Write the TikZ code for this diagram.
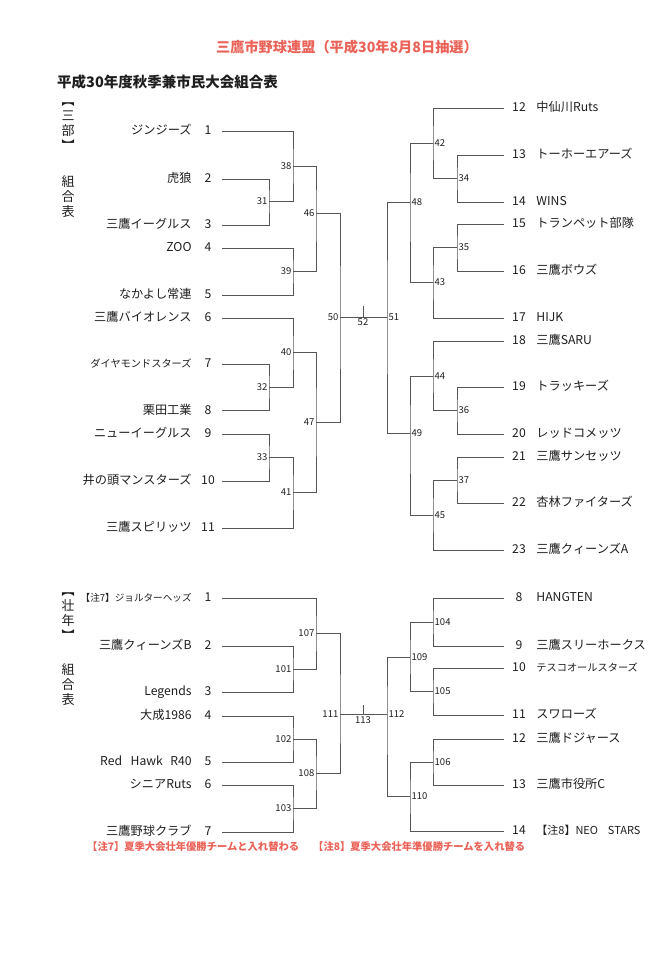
\documentclass[tikz,border=0pt]{standalone}
\usepackage{fontspec}
\setmainfont{Noto Sans CJK JP}
\usetikzlibrary{positioning}
\definecolor{drawred}{RGB}{234,98,88}
\definecolor{linegray}{RGB}{85,85,85}
\definecolor{textblack}{RGB}{30,30,30}

\begin{document}
\begin{tikzpicture}[x=1pt, y=-1pt, text=textblack,
	tname/.style={font=\fontsize{12.2}{14}\selectfont, inner sep=0pt, text height=8.8pt, text depth=1.6pt},
	tsmall/.style={tname, font=\fontsize{10.2}{12}\selectfont},
	num/.style={font=\fontsize{12.2}{14}\selectfont, minimum width=16pt, inner sep=0pt, text height=8.8pt, text depth=1.6pt},
	jnum/.style={font=\fontsize{9.5}{11}\selectfont, inner sep=1.5pt},
	side/.style={font=\fontsize{13}{15}\selectfont, align=center, inner sep=0pt},
	note/.style={font=\bfseries\fontsize{10.3}{12}\selectfont, text=drawred, anchor=west, inner sep=0pt},
	br/.style={draw=linegray, line width=0.9pt}]
		\useasboundingbox (0,0) rectangle (665,972);
		\node[font=\bfseries\fontsize{14.2}{16}\selectfont, text=drawred] (title) at (347,47) {三鷹市野球連盟（平成30年8月8日抽選）};
		\node[font=\bfseries\fontsize{14.5}{16}\selectfont, anchor=west, inner sep=0pt] (subtitle) at (57,82) {平成30年度秋季兼市民大会組合表};
		\node[side] (sideA) at (68,127) {︻\\三\\部\\︼};
		\node[side] (sideAb) at (68,197) {組\\合\\表};
		\node[side] (sideB) at (68,617) {︻\\壮\\年\\︼};
		\node[side] (sideBb) at (68,685) {組\\合\\表};

		\node[num] (a1) at (208,131) {1};
		\node[tname, left=8pt of a1] (a1n) {ジンジーズ};
		\coordinate[right=6pt of a1] (a1l);
		\node[num] (a2) at (208,179) {2};
		\node[tname, left=8pt of a2] (a2n) {虎狼};
		\coordinate[right=6pt of a2] (a2l);
		\node[num] (a3) at (208,225) {3};
		\node[tname, left=8pt of a3] (a3n) {三鷹イーグルス};
		\coordinate[right=6pt of a3] (a3l);
		\node[num] (a4) at (208,248) {4};
		\node[tname, left=8pt of a4] (a4n) {ZOO};
		\coordinate[right=6pt of a4] (a4l);
		\node[num] (a5) at (208,295) {5};
		\node[tname, left=8pt of a5] (a5n) {なかよし常連};
		\coordinate[right=6pt of a5] (a5l);
		\node[num] (a6) at (208,318) {6};
		\node[tname, left=8pt of a6] (a6n) {三鷹バイオレンス};
		\coordinate[right=6pt of a6] (a6l);
		\node[num] (a7) at (208,364) {7};
		\node[tsmall, left=8pt of a7] (a7n) {ダイヤモンドスターズ};
		\coordinate[right=6pt of a7] (a7l);
		\node[num] (a8) at (208,410.5) {8};
		\node[tname, left=8pt of a8] (a8n) {栗田工業};
		\coordinate[right=6pt of a8] (a8l);
		\node[num] (a9) at (208,434) {9};
		\node[tname, left=8pt of a9] (a9n) {ニューイーグルス};
		\coordinate[right=6pt of a9] (a9l);
		\node[num] (a10) at (208,481) {10};
		\node[tname, left=8pt of a10] (a10n) {井の頭マンスターズ};
		\coordinate[right=6pt of a10] (a10l);
		\node[num] (a11) at (208,528) {11};
		\node[tname, left=8pt of a11] (a11n) {三鷹スピリッツ};
		\coordinate[right=6pt of a11] (a11l);

		\node[num] (a12) at (519,108) {12};
		\node[tname, right=9pt of a12] (a12n) {中仙川Ruts};
		\coordinate[left=7pt of a12] (a12l);
		\node[num] (a13) at (519,155) {13};
		\node[tname, right=9pt of a13] (a13n) {トーホーエアーズ};
		\coordinate[left=7pt of a13] (a13l);
		\node[num] (a14) at (519,202) {14};
		\node[tname, right=9pt of a14] (a14n) {WINS};
		\coordinate[left=7pt of a14] (a14l);
		\node[num] (a15) at (519,224) {15};
		\node[tname, right=9pt of a15] (a15n) {トランペット部隊};
		\coordinate[left=7pt of a15] (a15l);
		\node[num] (a16) at (519,271) {16};
		\node[tname, right=9pt of a16] (a16n) {三鷹ボウズ};
		\coordinate[left=7pt of a16] (a16l);
		\node[num] (a17) at (519,318) {17};
		\node[tname, right=9pt of a17] (a17n) {HIJK};
		\coordinate[left=7pt of a17] (a17l);
		\node[num] (a18) at (519,341) {18};
		\node[tname, right=9pt of a18] (a18n) {三鷹SARU};
		\coordinate[left=7pt of a18] (a18l);
		\node[num] (a19) at (519,387) {19};
		\node[tname, right=9pt of a19] (a19n) {トラッキーズ};
		\coordinate[left=7pt of a19] (a19l);
		\node[num] (a20) at (519,434) {20};
		\node[tname, right=9pt of a20] (a20n) {レッドコメッツ};
		\coordinate[left=7pt of a20] (a20l);
		\node[num] (a21) at (519,457) {21};
		\node[tname, right=9pt of a21] (a21n) {三鷹サンセッツ};
		\coordinate[left=7pt of a21] (a21l);
		\node[num] (a22) at (519,503) {22};
		\node[tname, right=9pt of a22] (a22n) {杏林ファイターズ};
		\coordinate[left=7pt of a22] (a22l);
		\node[num] (a23) at (519,550) {23};
		\node[tname, right=9pt of a23] (a23n) {三鷹クィーンズA};
		\coordinate[left=7pt of a23] (a23l);

		\coordinate (j31) at (269,201);
		\coordinate (j38) at (293,166);
		\coordinate (j39) at (293,271.5);
		\coordinate (j46) at (316,213);
		\coordinate (j32) at (269,387);
		\coordinate (j40) at (293,352.5);
		\coordinate (j33) at (269,457);
		\coordinate (j41) at (293,492.5);
		\coordinate (j47) at (316,422);
		\coordinate (j50) at (340,317);
		\coordinate (j34) at (457,178.5);
		\coordinate (j42) at (433,143);
		\coordinate (j35) at (457,247.5);
		\coordinate (j43) at (433,282.5);
		\coordinate (j48) at (410,202);
		\coordinate (j36) at (457,410.5);
		\coordinate (j44) at (433,376);
		\coordinate (j37) at (457,480);
		\coordinate (j45) at (433,515);
		\coordinate (j49) at (410,433);
		\coordinate (j51) at (387,317);
		\coordinate (j52) at (363,317);

		\draw[br] (a2l) -| (j31) |- (a3l);
		\draw[br] (a1l) -| (j38) |- (j31);
		\draw[br] (a4l) -| (j39) |- (a5l);
		\draw[br] (j38) -| (j46) |- (j39);
		\draw[br] (a7l) -| (j32) |- (a8l);
		\draw[br] (a6l) -| (j40) |- (j32);
		\draw[br] (a9l) -| (j33) |- (a10l);
		\draw[br] (j33) -| (j41) |- (a11l);
		\draw[br] (j40) -| (j47) |- (j41);
		\draw[br] (j46) -| (j50) |- (j47);
		\draw[br] (j50) -- (j51);
		\draw[br] (j52) -- ++(0,-11);
		\draw[br] (a13l) -| (j34) |- (a14l);
		\draw[br] (a12l) -| (j42) |- (j34);
		\draw[br] (a15l) -| (j35) |- (a16l);
		\draw[br] (j35) -| (j43) |- (a17l);
		\draw[br] (j42) -| (j48) |- (j43);
		\draw[br] (a19l) -| (j36) |- (a20l);
		\draw[br] (a18l) -| (j44) |- (j36);
		\draw[br] (a21l) -| (j37) |- (a22l);
		\draw[br] (j37) -| (j45) |- (a23l);
		\draw[br] (j44) -| (j49) |- (j45);
		\draw[br] (j48) -| (j51) |- (j49);

		\node[jnum, left=0pt of j31] (j31t) {31};
		\node[jnum, left=0pt of j38] (j38t) {38};
		\node[jnum, left=0pt of j39] (j39t) {39};
		\node[jnum, left=0pt of j46] (j46t) {46};
		\node[jnum, left=0pt of j32] (j32t) {32};
		\node[jnum, left=0pt of j40] (j40t) {40};
		\node[jnum, left=0pt of j33] (j33t) {33};
		\node[jnum, left=0pt of j41] (j41t) {41};
		\node[jnum, left=0pt of j47] (j47t) {47};
		\node[jnum, left=0pt of j50] (j50t) {50};
		\node[jnum, right=0pt of j34] (j34t) {34};
		\node[jnum, right=0pt of j42] (j42t) {42};
		\node[jnum, right=0pt of j35] (j35t) {35};
		\node[jnum, right=0pt of j43] (j43t) {43};
		\node[jnum, right=0pt of j48] (j48t) {48};
		\node[jnum, right=0pt of j36] (j36t) {36};
		\node[jnum, right=0pt of j44] (j44t) {44};
		\node[jnum, right=0pt of j37] (j37t) {37};
		\node[jnum, right=0pt of j45] (j45t) {45};
		\node[jnum, right=0pt of j49] (j49t) {49};
		\node[jnum, right=0pt of j51] (j51t) {51};
		\node[jnum, below=0pt of j52] (j52t) {52};

		\node[num] (b1) at (208,598) {1};
		\node[tname, font=\fontsize{9.6}{12}\selectfont, left=8pt of b1] (b1n) {【注7】ジョルターヘッズ};
		\coordinate[right=6pt of b1] (b1l);
		\node[num] (b2) at (208,646) {2};
		\node[tname, left=8pt of b2] (b2n) {三鷹クィーンズB};
		\coordinate[right=6pt of b2] (b2l);
		\node[num] (b3) at (208,692) {3};
		\node[tname, left=8pt of b3] (b3n) {Legends};
		\coordinate[right=6pt of b3] (b3l);
		\node[num] (b4) at (208,716) {4};
		\node[tname, left=8pt of b4] (b4n) {大成1986};
		\coordinate[right=6pt of b4] (b4l);
		\node[num] (b5) at (208,762) {5};
		\node[tname, left=8pt of b5] (b5n) {Red\hspace{0.7em}Hawk\hspace{0.6em}R40};
		\coordinate[right=6pt of b5] (b5l);
		\node[num] (b6) at (208,785) {6};
		\node[tname, left=8pt of b6] (b6n) {シニアRuts};
		\coordinate[right=6pt of b6] (b6l);
		\node[num] (b7) at (208,832) {7};
		\node[tname, left=8pt of b7] (b7n) {三鷹野球クラブ};
		\coordinate[right=6pt of b7] (b7l);

		\node[num] (b8) at (519,598) {8};
		\node[tname, right=9pt of b8] (b8n) {HANGTEN};
		\coordinate[left=7pt of b8] (b8l);
		\node[num] (b9) at (519,646) {9};
		\node[tname, right=9pt of b9] (b9n) {三鷹スリーホークス};
		\coordinate[left=7pt of b9] (b9l);
		\node[num] (b10) at (519,668) {10};
		\node[tsmall, right=9pt of b10] (b10n) {テスコオールスターズ};
		\coordinate[left=7pt of b10] (b10l);
		\node[num] (b11) at (519,715) {11};
		\node[tname, right=9pt of b11] (b11n) {スワローズ};
		\coordinate[left=7pt of b11] (b11l);
		\node[num] (b12) at (519,739) {12};
		\node[tname, right=9pt of b12] (b12n) {三鷹ドジャース};
		\coordinate[left=7pt of b12] (b12l);
		\node[num] (b13) at (519,785) {13};
		\node[tname, right=9pt of b13] (b13n) {三鷹市役所C};
		\coordinate[left=7pt of b13] (b13l);
		\node[num] (b14) at (519,831) {14};
		\node[tname, font=\fontsize{11}{13}\selectfont, right=9pt of b14] (b14n) {【注8】NEO\hspace{0.9em}STARS};
		\coordinate[left=7pt of b14] (b14l);

		\coordinate (j101) at (293,669);
		\coordinate (j107) at (316,633.5);
		\coordinate (j102) at (293,739);
		\coordinate (j103) at (293,808.5);
		\coordinate (j108) at (316,773);
		\coordinate (j111) at (340,714.5);
		\coordinate (j104) at (433,622);
		\coordinate (j105) at (433,691.5);
		\coordinate (j109) at (410,657);
		\coordinate (j106) at (433,762);
		\coordinate (j110) at (410,796.5);
		\coordinate (j112) at (387,714.5);
		\coordinate (j113) at (363,714.5);

		\draw[br] (b2l) -| (j101) |- (b3l);
		\draw[br] (b1l) -| (j107) |- (j101);
		\draw[br] (b4l) -| (j102) |- (b5l);
		\draw[br] (b6l) -| (j103) |- (b7l);
		\draw[br] (j102) -| (j108) |- (j103);
		\draw[br] (j107) -| (j111) |- (j108);
		\draw[br] (j111) -- (j112);
		\draw[br] (j113) -- ++(0,-10);
		\draw[br] (b8l) -| (j104) |- (b9l);
		\draw[br] (b10l) -| (j105) |- (b11l);
		\draw[br] (j104) -| (j109) |- (j105);
		\draw[br] (b12l) -| (j106) |- (b13l);
		\draw[br] (j106) -| (j110) |- (b14l);
		\draw[br] (j109) -| (j112) |- (j110);

		\node[jnum, left=0pt of j101] (j101t) {101};
		\node[jnum, left=0pt of j107] (j107t) {107};
		\node[jnum, left=0pt of j102] (j102t) {102};
		\node[jnum, left=0pt of j103] (j103t) {103};
		\node[jnum, left=0pt of j108] (j108t) {108};
		\node[jnum, left=0pt of j111] (j111t) {111};
		\node[jnum, right=0pt of j104] (j104t) {104};
		\node[jnum, right=0pt of j105] (j105t) {105};
		\node[jnum, right=0pt of j109] (j109t) {109};
		\node[jnum, right=0pt of j106] (j106t) {106};
		\node[jnum, right=0pt of j110] (j110t) {110};
		\node[jnum, right=0pt of j112] (j112t) {112};
		\node[jnum, below=0pt of j113] (j113t) {113};

		\node[note] (note7) at (87,847) {【注7】夏季大会壮年優勝チームと入れ替わる};
		\node[note] (note8) at (313,847) {【注8】夏季大会壮年準優勝チームを入れ替る};
	\end{tikzpicture}
\end{document}
